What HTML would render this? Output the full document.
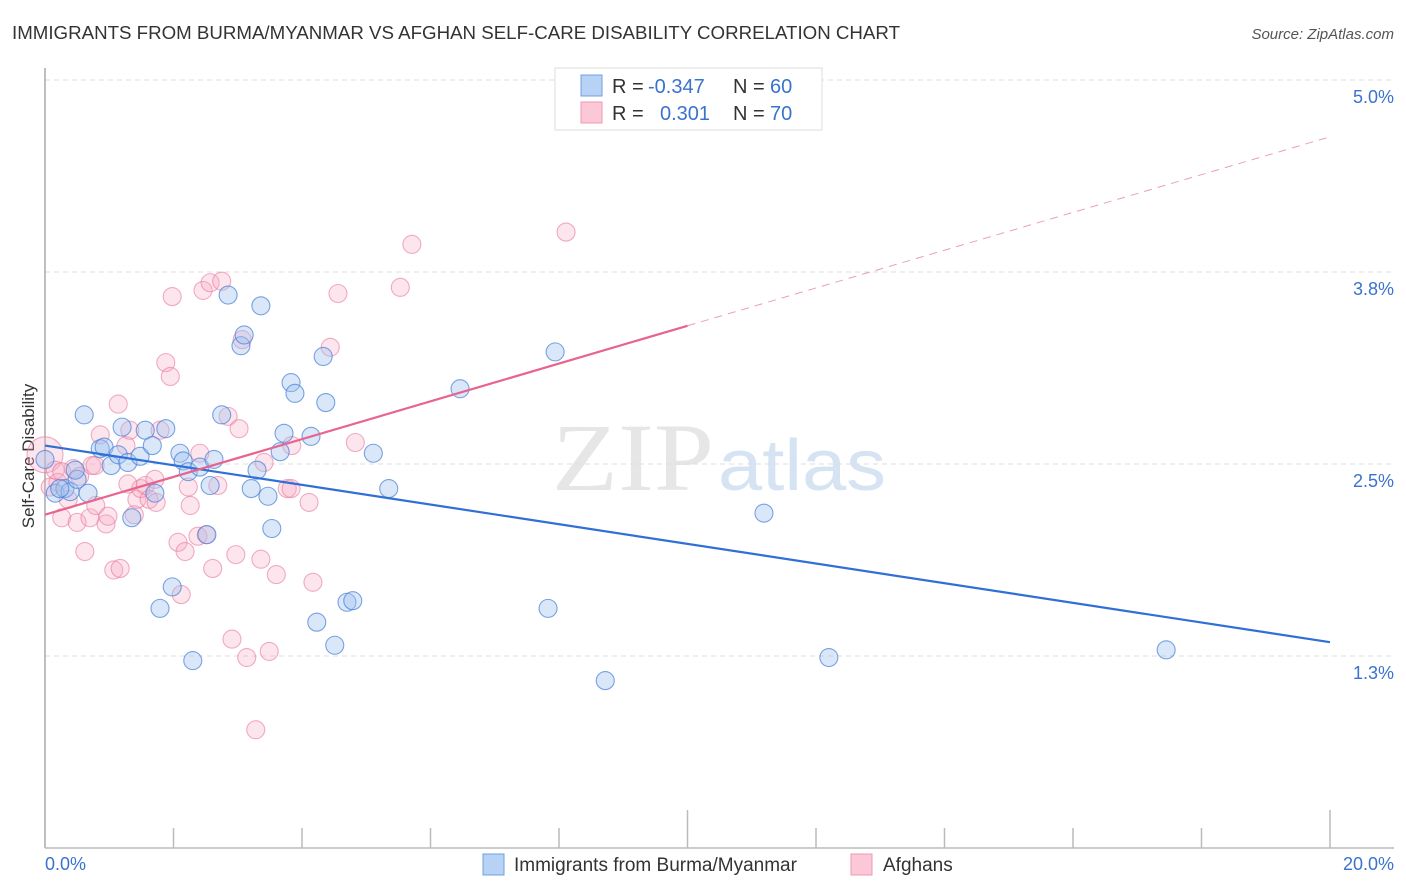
<!DOCTYPE html>
<html><head><meta charset="utf-8"><style>
body{margin:0;background:#fff;}
svg{display:block;font-family:"Liberation Sans",sans-serif;}
</style></head><body>
<svg id="chart" width="1406" height="892" viewBox="0 0 1406 892">
<text x="12" y="39" font-size="18" fill="#333" textLength="888" lengthAdjust="spacingAndGlyphs">IMMIGRANTS FROM BURMA/MYANMAR VS AFGHAN SELF-CARE DISABILITY CORRELATION CHART</text>
<text x="1394" y="39" font-size="15" fill="#555" text-anchor="end" font-style="italic">Source: ZipAtlas.com</text>
<text x="34" y="456" font-size="17" fill="#333" text-anchor="middle" transform="rotate(-90 34 456)">Self-Care Disability</text>
<g>
<text x="552" y="490" font-size="96" fill="#e6e6e6" font-family="Liberation Serif,serif" textLength="162" lengthAdjust="spacingAndGlyphs">ZIP</text>
<text x="718" y="490" font-size="72" fill="#d6e3f3" textLength="168" lengthAdjust="spacingAndGlyphs">atlas</text>
</g>
<g id="grid"></g>
<g id="axes"></g>
<g id="pts"></g>
<g id="lines"></g>
<g>
<rect x="555" y="68" width="267" height="62" fill="#fff" stroke="#ddd"/>
<rect x="581" y="75" width="21" height="21" fill="#b7d2f5" stroke="#6f9fe0"/>
<rect x="581" y="102" width="21" height="21" fill="#fcc7d6" stroke="#ee9ab5"/>
<text x="612" y="93" font-size="20" fill="#333">R = </text><text x="648" y="93" font-size="20" fill="#3a72d0">-0.347</text>
<text x="733" y="93" font-size="20" fill="#333">N = </text><text x="770" y="93" font-size="20" fill="#3a72d0">60</text>
<text x="612" y="120" font-size="20" fill="#333">R = </text><text x="660" y="120" font-size="20" fill="#3a72d0">0.301</text>
<text x="733" y="120" font-size="20" fill="#333">N = </text><text x="770" y="120" font-size="20" fill="#3a72d0">70</text>
</g>
<g>
<rect x="483" y="854" width="21" height="21" fill="#b7d2f5" stroke="#6f9fe0"/>
<text x="514" y="871" font-size="19" fill="#333">Immigrants from Burma/Myanmar</text>
<rect x="851" y="854" width="21" height="21" fill="#fcc7d6" stroke="#ee9ab5"/>
<text x="883" y="871" font-size="19" fill="#333">Afghans</text>
</g>
</svg>
<script>
const yTicks=[5.0,3.75,2.5,1.25];
const yTickLabels=["5.0%","3.8%","2.5%","1.3%"];
const xTickLabels=["0.0%","20.0%"];
const burmaX=[0.61,0.16,0.31,0.39,0.67,0.50,0.86,0.92,1.03,1.14,1.20,1.29,1.35,1.48,1.56,1.67,1.71,1.79,1.88,1.98,2.10,2.15,2.23,2.30,2.41,2.52,2.57,2.63,2.75,2.85,3.05,3.10,3.21,3.30,3.36,3.47,3.53,3.66,3.72,3.83,3.89,4.14,4.23,4.33,4.37,4.51,4.70,4.79,5.11,5.35,6.46,7.83,7.94,8.72,11.19,12.20,17.45,0.0,0.23,0.47];
const burmaY=[2.82,2.31,2.34,2.32,2.31,2.40,2.60,2.61,2.49,2.56,2.74,2.51,2.15,2.55,2.72,2.62,2.31,1.56,2.73,1.70,2.57,2.52,2.45,1.22,2.48,2.04,2.36,2.53,2.82,3.60,3.27,3.34,2.34,2.46,3.53,2.29,2.08,2.58,2.70,3.03,2.96,2.68,1.47,3.20,2.90,1.32,1.60,1.61,2.57,2.34,2.99,1.56,3.23,1.09,2.18,1.24,1.29,2.53,2.34,2.46];
const afgX=[0.0,0.16,0.20,0.26,0.36,0.44,0.50,0.54,0.62,0.70,0.73,0.79,0.86,0.95,0.98,1.07,1.14,1.17,1.26,1.29,1.32,1.39,1.43,1.49,1.56,1.62,1.71,1.73,1.79,1.88,1.95,1.98,2.07,2.12,2.18,2.23,2.26,2.38,2.41,2.46,2.51,2.57,2.61,2.69,2.75,2.85,2.91,2.97,3.02,3.07,3.14,3.28,3.36,3.41,3.49,3.60,3.77,3.83,3.84,4.11,4.17,4.44,4.56,4.83,5.53,5.71,8.11,0.26,0.08,0.78];
const afgY=[2.56,2.46,2.38,2.15,2.27,2.47,2.12,2.42,1.93,2.15,2.49,2.23,2.69,2.11,2.16,1.81,2.89,1.82,2.62,2.37,2.72,2.17,2.27,2.34,2.36,2.27,2.40,2.25,2.72,3.16,3.07,3.59,1.99,1.65,1.93,2.35,2.23,2.03,2.57,3.63,2.04,3.68,1.82,2.36,3.69,2.81,1.36,1.91,2.73,3.31,1.24,0.77,1.88,2.51,1.28,1.78,2.34,2.34,2.62,2.25,1.73,3.26,3.61,2.64,3.65,3.93,4.01,2.45,2.35,2.49];
const burmaTrend=[2.62,1.34];
const afgTrend=[2.17,4.63];
const X0=45,X1=1330,Y0=848,PX=153.6;
const sx=v=>X0+(v/20)*(X1-X0);
const sy=v=>Y0-v*PX;
const NS="http://www.w3.org/2000/svg";
function mk(tag,attrs,parent){const e=document.createElementNS(NS,tag);for(const k in attrs)e.setAttribute(k,attrs[k]);parent.appendChild(e);return e;}
const grid=document.getElementById('grid');
yTicks.forEach((t,i)=>{
 const g=mk('line',{x1:X0,x2:1394,y1:sy(t),y2:sy(t),stroke:'#ddd','stroke-dasharray':'5,4'},grid);
 
 
 const tx=mk('text',{x:1394,y:sy(t)+23,'font-size':18,fill:'#3a72d0','text-anchor':'end'},grid);
 tx.textContent=yTickLabels[i];
 
 
});
const ax=document.getElementById('axes');
const yl=mk('line',{x1:X0,x2:X0,y1:68,y2:Y0,stroke:'#aaa','stroke-width':1.5},ax);


const xl=mk('line',{x1:X0,x2:1394,y1:Y0,y2:Y0,stroke:'#bbb','stroke-width':1.5},ax);


for(let i=1;i<=10;i++){
 const x=sx(i*2);
 const tk=mk('line',{x1:x,x2:x,y1:(i%5==0)?810:828,y2:Y0,stroke:'#bbb','stroke-width':1.5},ax);
 
 
}
const xa=mk('text',{x:45,y:870,'font-size':18,fill:'#3a72d0'},ax);xa.textContent=xTickLabels[0];


const xb=mk('text',{x:1394,y:870,'font-size':18,fill:'#3a72d0','text-anchor':'end'},ax);xb.textContent=xTickLabels[1];


const pts=document.getElementById('pts');
afgX.forEach((x,i)=>{
 const c=mk('circle',{cx:sx(x),cy:sy(afgY[i]),r:i===0?18:9,fill:'rgba(248,170,195,0.3)',stroke:'rgba(232,120,155,0.6)','stroke-width':1.1},pts);
 
 
});
burmaX.forEach((x,i)=>{
 const c=mk('circle',{cx:sx(x),cy:sy(burmaY[i]),r:9,fill:'rgba(160,195,240,0.4)',stroke:'rgba(70,125,215,0.7)','stroke-width':1.1},pts);
 
 
});
const ln=document.getElementById('lines');
const bl=mk('line',{x1:sx(0),y1:sy(burmaTrend[0]),x2:sx(20),y2:sy(burmaTrend[1]),stroke:'#2f6fd6','stroke-width':2.2},ln);


const mid=10, aMid=afgTrend[0]+(afgTrend[1]-afgTrend[0])*mid/20;
const al=mk('line',{x1:sx(0),y1:sy(afgTrend[0]),x2:sx(mid),y2:sy(aMid),stroke:'#e8648e','stroke-width':2.2},ln);


const ad=mk('line',{x1:sx(mid),y1:sy(aMid),x2:sx(20),y2:sy(afgTrend[1]),stroke:'#e8a0b8','stroke-width':1,'stroke-dasharray':'8,6'},ln);


</script>
</body></html>
